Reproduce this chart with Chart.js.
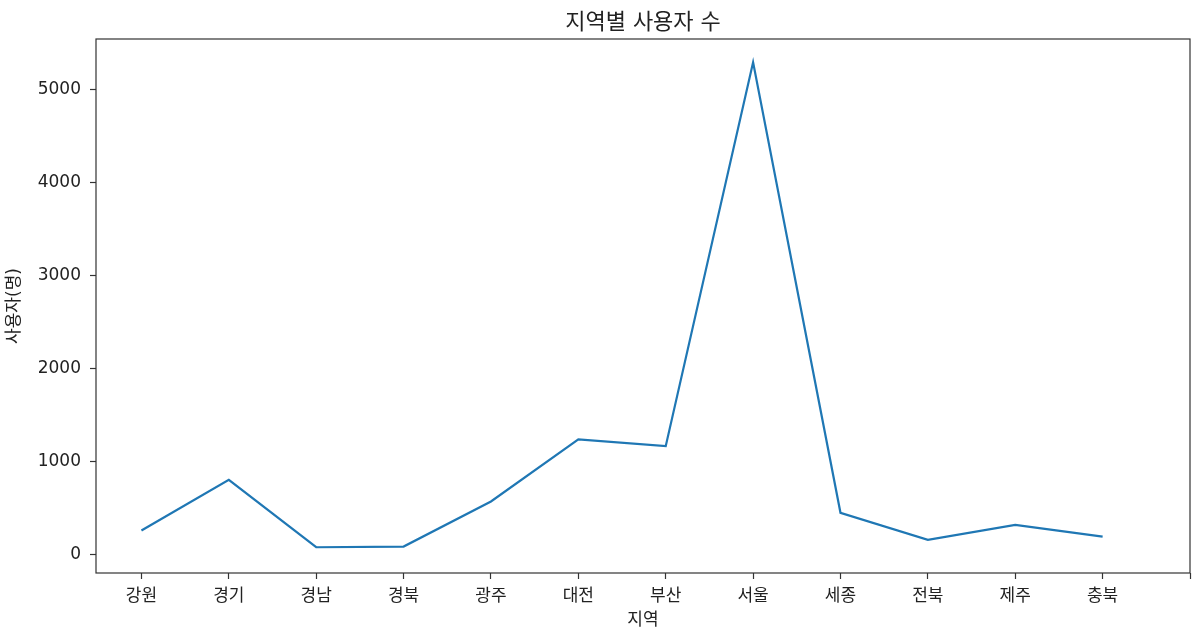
<!DOCTYPE html>
<html>
<head>
<meta charset="utf-8">
<script src="https://cdn.jsdelivr.net/npm/chart.js@4"></script>
<style>
  html, body { margin: 0; padding: 0; background: #ffffff; }
  #wrap { width: 1201px; height: 635px; }
</style>
</head>
<body>
<div id="wrap"><canvas id="c" width="1201" height="635"></canvas></div>
<script>
const categories = ['강원', '경기', '경남', '경북', '광주', '대전', '부산', '서울', '세종', '전북', '제주', '충북'];
const users = [262, 807, 82, 89, 574, 1241, 1169, 5296, 452, 161, 323, 197];
const yTickValues = [0, 1000, 2000, 3000, 4000, 5000];
const xTickCount = 13;
const chartTitle = '지역별 사용자 수';
const xTitle = '지역';
const yTitle = '사용자(명)';

const FONT = '"DejaVu Sans", "Noto Sans CJK KR", sans-serif';
const TXT = '#222222';

const points = users.map((v, i) => ({ x: i, y: v }));
const xTickValues = Array.from({ length: xTickCount }, (_, i) => i);

const boxPlugin = {
  id: 'box',
  afterDraw(chart) {
    const { ctx, chartArea: a } = chart;
    ctx.save();
    ctx.strokeStyle = '#333333';
    ctx.lineWidth = 1.2;
    ctx.strokeRect(a.left, a.top, a.right - a.left, a.bottom - a.top);
    ctx.restore();
  }
};

new Chart(document.getElementById('c'), {
  type: 'line',
  data: {
    datasets: [{
      data: points,
      borderColor: '#1f77b4',
      borderWidth: 2.2,
      pointRadius: 0,
      tension: 0,
      fill: false
    }]
  },
  options: {
    responsive: false,
    animation: false,
    layout: { padding: { left: 0, right: 11, top: 0, bottom: 0 } },
    plugins: {
      legend: { display: false },
      tooltip: { enabled: false },
      title: { display: false }
    },
    scales: {
      x: {
        type: 'linear',
        position: 'bottom',
        min: -0.52,
        max: 12,
        offset: false,
        afterBuildTicks: s => { s.ticks = xTickValues.map(v => ({ value: v })); },
        afterFit: s => { s.height = 62; },
        ticks: {
          autoSkip: false,
          maxRotation: 0,
          padding: 7,
          color: TXT,
          font: { family: FONT, size: 17 },
          callback: v => (categories[v] !== undefined ? categories[v] : '')
        },
        grid: { display: true, drawOnChartArea: false, drawTicks: true, tickLength: 6, tickColor: '#333333', tickWidth: 1.2 },
        border: { display: false },
        title: { display: true, text: xTitle, color: TXT, font: { family: FONT, size: 17 }, padding: { top: 0, bottom: 4.5 } }
      },
      top: {
        type: 'linear',
        position: 'top',
        min: 0,
        max: 1,
        afterFit: s => { s.height = 39; },
        ticks: { display: false },
        grid: { display: false },
        border: { display: false },
        title: { display: true, text: chartTitle, color: TXT, font: { family: FONT, size: 22 }, padding: { top: 10.5, bottom: 0 } }
      },
      y: {
        type: 'linear',
        position: 'left',
        min: -195,
        max: 5547,
        afterBuildTicks: s => { s.ticks = yTickValues.map(v => ({ value: v })); },
        afterFit: s => { s.width = 96; },
        ticks: {
          padding: 9,
          color: TXT,
          font: { family: FONT, size: 17 },
          callback: v => String(v)
        },
        grid: { display: true, drawOnChartArea: false, drawTicks: true, tickLength: 6, tickColor: '#333333', tickWidth: 1.2 },
        border: { display: false },
        title: { display: true, text: yTitle, color: TXT, font: { family: FONT, size: 17 }, padding: { top: 4, bottom: 0 } }
      }
    }
  },
  plugins: [boxPlugin]
});
</script>
</body>
</html>
